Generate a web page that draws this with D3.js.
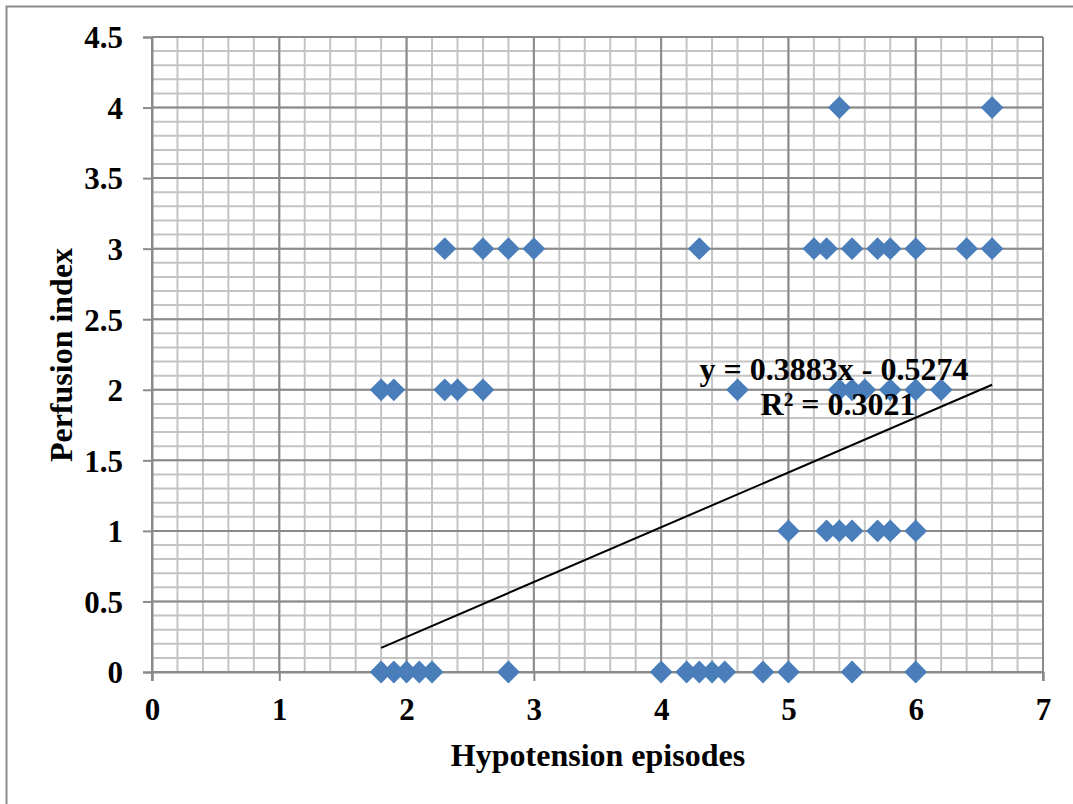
<!DOCTYPE html>
<html>
<head>
<meta charset="utf-8">
<script src="https://cdn.jsdelivr.net/npm/d3@7"></script>
<style>
  body { margin: 0; background: #fff; }
  svg { display: block; font-family: "Liberation Serif", "Times New Roman", serif; font-weight: bold; }
</style>
</head>
<body>
<figure id="scatter" style="margin:0"></figure>
<script>
// hypotension episodes (x) vs perfusion index (y)
const episodes = [
  1.8, 1.9, 2.0, 2.1, 2.2, 2.8, 4.0, 4.2, 4.3, 4.4, 4.5, 4.8, 5.0, 5.5, 6.0,
  5.0, 5.3, 5.4, 5.5, 5.7, 5.8, 6.0,
  1.8, 1.9, 2.3, 2.4, 2.6, 4.6, 5.4, 5.5, 5.6, 5.8, 6.0, 6.2,
  2.3, 2.6, 2.8, 3.0, 4.3, 5.2, 5.3, 5.5, 5.7, 5.8, 6.0, 6.4, 6.6,
  5.4, 6.6
];
const perfusion = [
  0, 0, 0, 0, 0, 0, 0, 0, 0, 0, 0, 0, 0, 0, 0,
  1, 1, 1, 1, 1, 1, 1,
  2, 2, 2, 2, 2, 2, 2, 2, 2, 2, 2, 2,
  3, 3, 3, 3, 3, 3, 3, 3, 3, 3, 3, 3, 3,
  4, 4
];
const xTicks = [0, 1, 2, 3, 4, 5, 6, 7];
const yTicks = [0, 0.5, 1, 1.5, 2, 2.5, 3, 3.5, 4, 4.5];
const trendSlope = 0.3883;
const trendIntercept = -0.5274;
const trendRange = [1.8, 6.6];
const trendLabel = ["y = 0.3883x - 0.5274", "R\u00b2 = 0.3021"];

const width = 1073, height = 804;
const margin = {top: 37, right: 30, bottom: 132, left: 152};

const svg = d3.select("figure#scatter")
  .append("svg")
  .attr("width", width)
  .attr("height", height);

// outer chart-area frame (only top and left edges are visible)
svg.append("path")
  .attr("d", "M6.5," + height + "V6.5H" + width)
  .attr("fill", "none")
  .attr("stroke", "#8c8c8c")
  .attr("stroke-width", 2);

const x = d3.scaleLinear().domain([0, 7]).range([margin.left, width - margin.right]);
const y = d3.scaleLinear().domain([0, 4.5]).range([height - margin.bottom, margin.top]);

const g = svg.append("g");

// minor grid
g.append("g")
  .selectAll("line")
  .data(d3.range(0, 7.001, 0.2))
  .join("line")
  .attr("x1", d => x(d)).attr("x2", d => x(d))
  .attr("y1", y(0)).attr("y2", y(4.5))
  .attr("stroke", "#c4c4c4").attr("stroke-width", 2);
g.append("g")
  .selectAll("line")
  .data(d3.range(0, 4.501, 0.1))
  .join("line")
  .attr("x1", x(0)).attr("x2", x(7))
  .attr("y1", d => y(d)).attr("y2", d => y(d))
  .attr("stroke", "#c4c4c4").attr("stroke-width", 2);

// major grid
g.append("g")
  .selectAll("line")
  .data(xTicks)
  .join("line")
  .attr("x1", d => x(d)).attr("x2", d => x(d))
  .attr("y1", y(0)).attr("y2", y(4.5))
  .attr("stroke", "#8a8a8a").attr("stroke-width", 2);
g.append("g")
  .selectAll("line")
  .data(yTicks)
  .join("line")
  .attr("x1", x(0)).attr("x2", x(7))
  .attr("y1", d => y(d)).attr("y2", d => y(d))
  .attr("stroke", "#8a8a8a").attr("stroke-width", 2);

// axes
const xAxis = svg.append("g")
  .attr("transform", "translate(0," + y(0) + ")")
  .call(d3.axisBottom(x).tickValues(xTicks).tickFormat(d3.format("d")).tickSize(9).tickPadding(17));
const yAxis = svg.append("g")
  .attr("transform", "translate(" + x(0) + ",0)")
  .call(d3.axisLeft(y).tickValues(yTicks).tickFormat(d => d).tickSize(9).tickPadding(20));

[xAxis, yAxis].forEach(a => {
  a.select(".domain").attr("stroke", "#8a8a8a").attr("stroke-width", 2);
  a.selectAll(".tick line").attr("stroke", "#8a8a8a").attr("stroke-width", 2);
  a.selectAll("text")
    .attr("fill", "#000")
    .style("font-family", "'Liberation Serif', 'Times New Roman', serif")
    .style("font-weight", "bold")
    .style("font-size", "31px");
});
yAxis.selectAll("text").attr("dy", "0.35em");
yAxis.append("line")
  .attr("x1", 0).attr("x2", 0).attr("y1", y(0)).attr("y2", y(0) + 9)
  .attr("stroke", "#8a8a8a").attr("stroke-width", 2);
// right edge of plot area
svg.append("line")
  .attr("x1", x(7)).attr("x2", x(7)).attr("y1", y(4.5)).attr("y2", y(0) + 9)
  .attr("stroke", "#8a8a8a").attr("stroke-width", 2);

// trendline
svg.append("line")
  .attr("x1", x(trendRange[0])).attr("y1", y(trendSlope * trendRange[0] + trendIntercept))
  .attr("x2", x(trendRange[1])).attr("y2", y(trendSlope * trendRange[1] + trendIntercept))
  .attr("stroke", "#000").attr("stroke-width", 2);

// points
const diamond = d3.symbol().type(d3.symbolDiamond2).size(330);
svg.append("g")
  .selectAll("path")
  .data(episodes.map((e, i) => [e, perfusion[i]]))
  .join("path")
  .attr("d", diamond)
  .attr("transform", d => "translate(" + x(d[0]) + "," + y(d[1]) + ")")
  .attr("fill", "#4a7ebb");

// trendline label
svg.append("text")
  .attr("x", 834).attr("y", 380)
  .attr("text-anchor", "middle")
  .style("font-size", "32px")
  .text(trendLabel[0]);
svg.append("text")
  .attr("x", 838).attr("y", 415)
  .attr("text-anchor", "middle")
  .style("font-size", "32px")
  .text(trendLabel[1]);

// axis titles
svg.append("text")
  .attr("x", 598).attr("y", 766)
  .attr("text-anchor", "middle")
  .style("font-size", "32px")
  .text("Hypotension episodes");
svg.append("text")
  .attr("transform", "translate(72,355) rotate(-90)")
  .attr("text-anchor", "middle")
  .style("font-size", "32px")
  .text("Perfusion index");
</script>
</body>
</html>
